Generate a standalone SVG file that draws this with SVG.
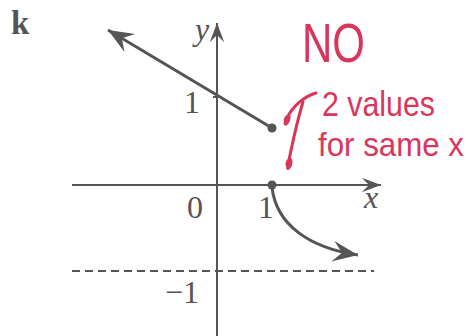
<svg xmlns="http://www.w3.org/2000/svg" width="475" height="336" viewBox="0 0 475 336">
<defs>
<marker id="arr" markerUnits="userSpaceOnUse" markerWidth="30" markerHeight="30" viewBox="-24 -10 26 20" refX="0" refY="0" orient="auto">
<path d="M0,0 L-22,-9 L-14,0 L-22,9 Z" fill="#555"/>
</marker>
<marker id="arrs" markerUnits="userSpaceOnUse" markerWidth="24" markerHeight="24" viewBox="-18 -8 20 16" refX="0" refY="0" orient="auto">
<path d="M0,0 L-16,-6 L-10,0 L-16,6 Z" fill="#555"/>
</marker>
</defs>
<style>
.ax{stroke:#555;stroke-width:2;fill:none}
.gr{stroke:#555;stroke-width:3;fill:none}
.lbl{font-family:"Liberation Serif",serif;font-size:32px;fill:#555}
.it{font-style:italic}
.bd{font-weight:bold;font-size:33px}
.red{font-family:"Liberation Sans",sans-serif;fill:#d9365c}
.rs{stroke:#d9365c;stroke-width:3;fill:none;stroke-linecap:round;stroke-linejoin:round}
</style>
<rect width="475" height="336" fill="#fff"/>
<g id="axes">
<line class="ax" x1="72" y1="185" x2="381" y2="185" marker-end="url(#arrs)"/>
<line class="ax" x1="217" y1="336" x2="217" y2="23" marker-end="url(#arrs)"/>
<line class="ax" x1="213" y1="97" x2="222" y2="97" stroke-width="3"/>
<line class="ax" x1="72" y1="271" x2="374" y2="271" stroke-width="1.5" stroke-dasharray="8 5"/>
</g>
<g id="labels">
<text class="lbl bd" x="11" y="34">k</text>
<text class="lbl it" x="195" y="40">y</text>
<text class="lbl it" x="364" y="208">x</text>
<text class="lbl" x="195" y="218" text-anchor="middle">0</text>
<text class="lbl" x="266" y="218" text-anchor="middle">1</text>
<text class="lbl" x="192" y="113" text-anchor="middle">1</text>
<text class="lbl" x="199" y="303" text-anchor="end">−1</text>
</g>
<g id="connectors">
<line class="gr" x1="272" y1="128" x2="108" y2="30" marker-end="url(#arr)"/>
<path class="gr" d="M272,187 C276,225 310,248 358,255" marker-end="url(#arr)"/>
</g>
<g id="dot-open-end">
<circle cx="272" cy="128" r="4.5" fill="#555"/>
</g>
<g id="dot-axis">
<circle cx="272" cy="185" r="4.5" fill="#555"/>
</g>
<g id="annotation">
<text class="red" x="302" y="62" font-size="56" textLength="63" lengthAdjust="spacingAndGlyphs">NO</text>
<text class="red" x="322" y="116" font-size="35" textLength="113" lengthAdjust="spacingAndGlyphs">2 values</text>
<text class="red" x="318" y="156" font-size="33" textLength="146" lengthAdjust="spacingAndGlyphs">for same x</text>
<path class="rs" d="M316,93 C305,96 292,106 286,120 C283,127 288,124 289,118 C290,114 286,116 285,120"/>
<path class="rs" d="M303,102 C296,125 292,145 288,165 C286,172 291,167 291,162 C291,157 287,160 287,165"/>
</g>
</svg>
